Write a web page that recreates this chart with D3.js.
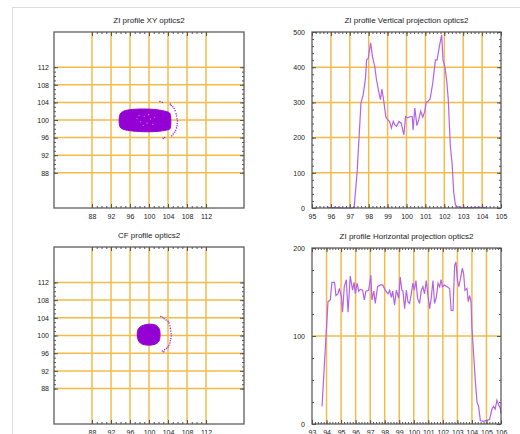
<!DOCTYPE html>
<html>
<head>
<meta charset="utf-8">
<script src="https://cdnjs.cloudflare.com/ajax/libs/d3/7.8.5/d3.min.js"></script>
<style>
  body { margin: 0; background: #fff; }
  svg { display: block; }
  text { font-family: "Liberation Sans", Arial, sans-serif; }
</style>
</head>
<body>
<svg id="chart" width="520" height="434"></svg>
<script>
// values
var titles = ["ZI profile XY optics2", "ZI profile Vertical projection optics2",
              "CF profile optics2", "ZI profile Horizontal projection optics2"];

var xyTicks = [88, 92, 96, 100, 104, 108, 112];
var vertXTicks = [95, 96, 97, 98, 99, 100, 101, 102, 103, 104, 105];
var vertYTicks = [0, 100, 200, 300, 400, 500];
var horXTicks = [93, 94, 95, 96, 97, 98, 99, 100, 101, 102, 103, 104, 105, 106];
var horYTicks = [0, 100, 200];

// vertical projection (y position -> counts)
var vertX = [95.8, 96.0, 96.3, 96.6, 96.9, 97.1, 97.23, 97.39, 97.59, 97.71, 97.83, 97.89, 97.98, 98.1,
             98.2, 98.32, 98.41, 98.53, 98.62, 98.7, 98.8, 98.9, 99.0, 99.1, 99.2, 99.3, 99.38, 99.47,
             99.6, 99.72, 99.86, 99.95, 100.07, 100.2, 100.3, 100.35, 100.44, 100.55, 100.65, 100.75,
             100.86, 100.97, 101.04, 101.13, 101.25, 101.39, 101.53, 101.62, 101.74, 101.86, 101.93,
             102.04, 102.14, 102.21, 102.32, 102.41, 102.5, 102.59, 102.71, 103.0, 103.4, 103.8, 104.0, 104.2];
var vertY = [2, 1, 1, 0, 0, 0, 2, 104, 298, 322, 369, 421, 426, 469,
             431, 402, 365, 331, 308, 338, 303, 260, 251, 246, 227, 246, 236, 232,
             246, 241, 208, 260, 256, 260, 260, 222, 284, 234, 251, 275,
             258, 275, 300, 303, 310, 355, 421, 421, 459, 492, 421,
             398, 355, 308, 175, 128, 43, 9, 3, 1, 1, 2, 2, 1];

// horizontal projection (x position -> counts)
var horX = [93.69, 94.1, 94.26, 94.37, 94.55, 94.65, 94.79, 94.88, 95.02, 95.1, 95.22, 95.36, 95.48,
            95.63, 95.79, 95.89, 95.98, 96.1, 96.21, 96.32, 96.48, 96.6, 96.71, 96.89, 97.05, 97.12,
            97.25, 97.35, 97.51, 97.7, 97.86, 98.04, 98.23, 98.34, 98.46, 98.55, 98.68, 98.8, 98.96,
            99.07, 99.18, 99.26, 99.37, 99.49, 99.6, 99.71, 99.83, 99.94, 100.04, 100.15, 100.26,
            100.4, 100.52, 100.63, 100.74, 100.86, 101.0, 101.09, 101.2, 101.32, 101.43, 101.55,
            101.67, 101.78, 101.88, 101.97, 102.1, 102.29, 102.47, 102.57, 102.7, 102.81, 102.9,
            103.01, 103.1, 103.2, 103.34, 103.43, 103.52, 103.66, 103.75, 103.84, 103.94, 104.0,
            104.23, 104.35, 104.46, 104.58, 104.8, 105.21, 105.38, 105.49, 105.6, 105.72, 105.83,
            105.95, 106.0];
var horY = [20, 139, 141, 161, 161, 146, 148, 154, 145, 127, 156, 164, 127,
            168, 152, 161, 148, 160, 151, 153, 152, 141, 151, 152, 169, 141,
            151, 137, 156, 158, 158, 152, 148, 152, 144, 151, 135, 152, 143,
            167, 152, 151, 131, 152, 139, 137, 148, 160, 152, 163, 143,
            137, 152, 156, 148, 163, 143, 131, 143, 163, 137, 144,
            160, 156, 164, 156, 158, 156, 154, 129, 129, 180, 184,
            163, 156, 164, 177, 171, 152, 154, 139, 146, 139, 110,
            50, 25, 20, 4, 3, 5, 17, 20, 17, 27, 22,
            18, 12];

// beam outlines and halo dots (x, y in mm)
var ziBeam = [[93.71, 99.84], [93.86, 101.14], [94.43, 101.89], [95.97, 102.34], [98.8, 102.5],
              [101.63, 102.34], [103.75, 101.89], [104.45, 101.36], [104.6, 99.84], [104.45, 98.1],
              [103.75, 97.73], [101.63, 97.4], [98.8, 97.34], [95.97, 97.57], [94.43, 97.95], [93.86, 98.55]];
var ziSpeckle = [[97.5, 100.4], [98.2, 99.6], [99.0, 100.8], [99.6, 99.3], [100.3, 100.2],
                 [100.8, 99.0], [98.8, 98.8], [101.2, 100.6], [99.9, 101.2], [97.9, 101.0]];
var ziHalo = [[102.3, 104.2], [102.8, 104.0], [104.5, 103.6], [104.7, 103.3], [105.0, 103.0],
              [105.3, 102.6], [105.5, 102.1], [105.7, 101.4], [105.8, 100.9], [105.9, 100.3],
              [106.0, 99.8], [105.95, 99.2], [105.9, 98.7], [105.8, 98.2], [105.6, 97.6],
              [105.4, 97.2], [105.1, 96.8], [104.8, 96.4], [103.0, 95.8], [103.3, 96.0]];
var cfBeam = [[97.52, 100.3], [97.73, 101.42], [98.45, 102.16], [99.86, 102.55], [101.27, 102.39],
              [102.12, 101.58], [102.33, 100.3], [102.12, 98.78], [101.27, 98.04], [99.86, 97.82],
              [98.45, 98.11], [97.73, 99.0]];
var cfHalo = [[102.5, 104.3], [102.9, 104.1], [103.2, 103.8], [103.6, 103.5], [104.0, 103.2],
              [104.2, 102.8], [104.4, 102.2], [104.5, 101.6], [104.6, 101.0], [104.65, 100.4],
              [104.7, 99.9], [104.6, 99.3], [104.5, 98.8], [104.4, 98.3], [104.2, 97.8],
              [104.0, 97.4], [103.7, 97.1], [103.3, 96.8], [102.8, 96.5], [103.1, 96.3]];

var svg = d3.select("#chart");
var gridColor = "#f4bb4a";
var beamColor = "#9400d3";
var lineColor = "#b462ea";

// page edge lines
svg.append("line").attr("x1", 12).attr("x2", 520).attr("y1", 7.5).attr("y2", 7.5)
  .attr("stroke", "#dcdcdc");
svg.append("line").attr("x1", 12.5).attr("x2", 12.5).attr("y1", 7).attr("y2", 434)
  .attr("stroke", "#dcdcdc");

function noDomain(a) { a.select(".domain").remove(); }

function panel(cfg) {
  var x = d3.scaleLinear().domain(cfg.xDomain).range([cfg.left, cfg.right]);
  var y = d3.scaleLinear().domain(cfg.yDomain).range([cfg.bottom, cfg.top]);
  var g = svg.append("g");

  g.selectAll(null).data(cfg.xGrid).join("line")
    .attr("x1", function(d) { return x(d); }).attr("x2", function(d) { return x(d); })
    .attr("y1", cfg.top).attr("y2", cfg.bottom)
    .attr("stroke", gridColor).attr("stroke-width", 1.5);
  g.selectAll(null).data(cfg.yGrid).join("line")
    .attr("y1", function(d) { return y(d); }).attr("y2", function(d) { return y(d); })
    .attr("x1", cfg.left).attr("x2", cfg.right)
    .attr("stroke", gridColor).attr("stroke-width", 1.5);

  cfg.draw(g, x, y);

  // inward ticks on all four sides, minor then major
  [[cfg.xMinor, cfg.yMinor, -2], [cfg.xLabels, cfg.yLabels, -4]].forEach(function(t) {
    g.append("g").attr("transform", "translate(0," + cfg.bottom + ")")
      .call(d3.axisBottom(x).tickValues(t[0]).tickSize(t[2]).tickFormat("")).call(noDomain);
    g.append("g").attr("transform", "translate(0," + cfg.top + ")")
      .call(d3.axisTop(x).tickValues(t[0]).tickSize(t[2]).tickFormat("")).call(noDomain);
    g.append("g").attr("transform", "translate(" + cfg.left + ",0)")
      .call(d3.axisLeft(y).tickValues(t[1]).tickSize(t[2]).tickFormat("")).call(noDomain);
    g.append("g").attr("transform", "translate(" + cfg.right + ",0)")
      .call(d3.axisRight(y).tickValues(t[1]).tickSize(t[2]).tickFormat("")).call(noDomain);
  });
  g.selectAll(".tick line").attr("stroke", "#555");

  // labels
  g.append("g").attr("transform", "translate(0," + cfg.bottom + ")")
    .call(d3.axisBottom(x).tickValues(cfg.xLabels).tickSize(0).tickPadding(cfg.xPad))
    .call(noDomain)
    .attr("font-size", 7).attr("font-family", null).attr("color", "#222");
  g.append("g").attr("transform", "translate(" + cfg.left + ",0)")
    .call(d3.axisLeft(y).tickValues(cfg.yLabels).tickSize(0).tickPadding(cfg.yPad))
    .call(noDomain)
    .attr("font-size", 7).attr("font-family", null).attr("color", "#222");

  g.append("rect")
    .attr("x", cfg.left).attr("y", cfg.top)
    .attr("width", cfg.right - cfg.left).attr("height", cfg.bottom - cfg.top)
    .attr("fill", "none").attr("stroke", "#505050").attr("stroke-width", 1.2);

  g.append("text")
    .attr("x", (cfg.left + cfg.right) / 2).attr("y", cfg.top - 9)
    .attr("text-anchor", "middle").attr("font-size", 8).attr("fill", "#222")
    .text(cfg.title);
}

function beam(outline, halo, speckle) {
  return function(g, x, y) {
    g.append("path")
      .attr("d", d3.line().x(function(d) { return x(d[0]); }).y(function(d) { return y(d[1]); })
        .curve(d3.curveCardinalClosed)(outline))
      .attr("fill", beamColor).attr("stroke", beamColor).attr("stroke-width", 1);
    g.selectAll(null).data(speckle).join("circle")
      .attr("cx", function(d) { return x(d[0]); }).attr("cy", function(d) { return y(d[1]); })
      .attr("r", 0.6).attr("fill", "#c98ded");
    g.selectAll(null).data(halo).join("circle")
      .attr("cx", function(d) { return x(d[0]); }).attr("cy", function(d) { return y(d[1]); })
      .attr("r", 0.8).attr("fill", "#a733dd");
  };
}

function profile(xs, ys) {
  return function(g, x, y) {
    g.append("path")
      .attr("d", d3.line().x(function(d) { return x(d[0]); }).y(function(d) { return y(d[1]); })(d3.zip(xs, ys)))
      .attr("fill", "none").attr("stroke", lineColor).attr("stroke-width", 1.2);
  };
}

var xyMinor = d3.range(88, 113, 1);

panel({
  title: titles[0], left: 54, right: 244, top: 32, bottom: 208,
  xDomain: [80, 120], yDomain: [80, 120],
  xGrid: xyTicks, yGrid: xyTicks, xLabels: xyTicks, yLabels: xyTicks,
  xMinor: xyMinor, yMinor: xyMinor, xPad: 6, yPad: 5,
  draw: beam(ziBeam, ziHalo, ziSpeckle)
});

panel({
  title: titles[1], left: 312, right: 501, top: 32, bottom: 208,
  xDomain: [95, 105], yDomain: [0, 500],
  xGrid: vertXTicks.slice(1, -1), yGrid: vertYTicks.slice(1, -1),
  xLabels: vertXTicks, yLabels: vertYTicks,
  xMinor: d3.range(95, 105.01, 0.2), yMinor: d3.range(0, 501, 20), xPad: 6, yPad: 7,
  draw: profile(vertX, vertY)
});

panel({
  title: titles[2], left: 54, right: 244, top: 247, bottom: 424,
  xDomain: [80, 120], yDomain: [80, 120],
  xGrid: xyTicks, yGrid: xyTicks, xLabels: xyTicks, yLabels: xyTicks,
  xMinor: xyMinor, yMinor: xyMinor, xPad: 6, yPad: 5,
  draw: beam(cfBeam, cfHalo, [])
});

panel({
  title: titles[3], left: 312, right: 501, top: 248, bottom: 424,
  xDomain: [93, 106], yDomain: [0, 200],
  xGrid: horXTicks.slice(1, -1), yGrid: horYTicks.slice(1, -1),
  xLabels: horXTicks, yLabels: horYTicks,
  xMinor: d3.range(93, 106.01, 0.2), yMinor: d3.range(0, 201, 25), xPad: 6, yPad: 7,
  draw: profile(horX, horY)
});
</script>
</body>
</html>
